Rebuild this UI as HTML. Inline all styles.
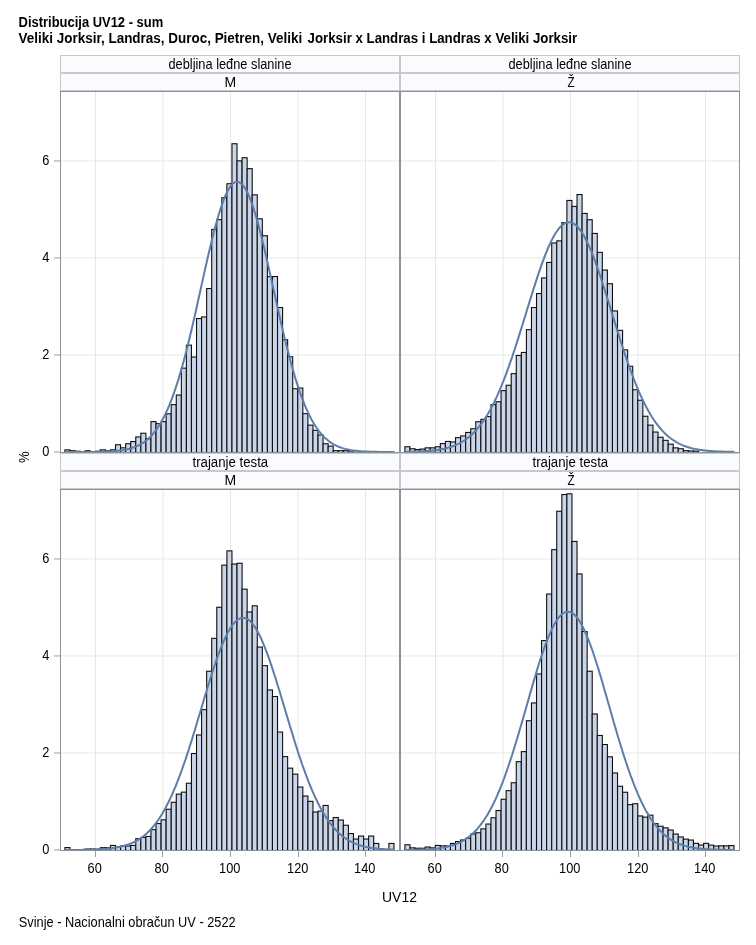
<!DOCTYPE html>
<html lang="hr"><head><meta charset="utf-8"><title>Distribucija UV12 - sum</title>
<style>html,body{margin:0;padding:0;background:#fff}svg{display:block}text{font-family:'Liberation Sans', Arial, Helvetica, sans-serif;fill:#000}</style></head><body>
<svg width="756" height="945" viewBox="0 0 756 945">
<rect width="756" height="945" fill="#fff"/>
<text transform="translate(18.6 27)" font-size="14.1" font-weight="bold" textLength="144.6" lengthAdjust="spacingAndGlyphs">Distribucija UV12 - sum</text>
<text transform="translate(18.6 43)" font-size="14.1" font-weight="bold" textLength="283.6" lengthAdjust="spacingAndGlyphs">Veliki Jorksir, Landras, Duroc, Pietren, Veliki</text>
<text transform="translate(307.6 43)" font-size="14.1" font-weight="bold" textLength="269.6" lengthAdjust="spacingAndGlyphs">Jorksir x Landras i Landras x Veliki Jorksir</text>
<rect x="60.5" y="55.5" width="339" height="17" fill="#FAFBFE" stroke="#C9C9C9" stroke-width="1" shape-rendering="crispEdges"/>
<text transform="translate(230 68.7) scale(0.914 1)" font-size="14" text-anchor="middle">debljina leđne slanine</text>
<rect x="60.5" y="73.5" width="339" height="17" fill="#FAFBFE" stroke="#C9C9C9" stroke-width="1" shape-rendering="crispEdges"/>
<text transform="translate(230.4 86.7)" font-size="14" text-anchor="middle">M</text>
<rect x="400.5" y="55.5" width="339" height="17" fill="#FAFBFE" stroke="#C9C9C9" stroke-width="1" shape-rendering="crispEdges"/>
<text transform="translate(570 68.7) scale(0.914 1)" font-size="14" text-anchor="middle">debljina leđne slanine</text>
<rect x="400.5" y="73.5" width="339" height="17" fill="#FAFBFE" stroke="#C9C9C9" stroke-width="1" shape-rendering="crispEdges"/>
<text transform="translate(571 86.7) scale(0.84 1)" font-size="14" text-anchor="middle">Ž</text>
<rect x="60.5" y="453.5" width="339" height="17" fill="#FAFBFE" stroke="#C9C9C9" stroke-width="1" shape-rendering="crispEdges"/>
<text transform="translate(230.3 466.7) scale(0.945 1)" font-size="14" text-anchor="middle">trajanje testa</text>
<rect x="60.5" y="471.5" width="339" height="17" fill="#FAFBFE" stroke="#C9C9C9" stroke-width="1" shape-rendering="crispEdges"/>
<text transform="translate(230.4 484.7)" font-size="14" text-anchor="middle">M</text>
<rect x="400.5" y="453.5" width="339" height="17" fill="#FAFBFE" stroke="#C9C9C9" stroke-width="1" shape-rendering="crispEdges"/>
<text transform="translate(570.3 466.7) scale(0.945 1)" font-size="14" text-anchor="middle">trajanje testa</text>
<rect x="400.5" y="471.5" width="339" height="17" fill="#FAFBFE" stroke="#C9C9C9" stroke-width="1" shape-rendering="crispEdges"/>
<text transform="translate(571 484.7) scale(0.84 1)" font-size="14" text-anchor="middle">Ž</text>
<clipPath id="c0"><rect x="60" y="91" width="340" height="362"/></clipPath>
<rect x="60" y="91" width="340" height="362" fill="#fff"/>
<path d="M95.5 91V452M163 91V452M230.5 91V452M298 91V452M365.5 91V452M60 354.97H400M60 257.94H400M60 160.91H400" stroke="#E7E7E7" stroke-width="1" fill="none"/>
<g clip-path="url(#c0)" fill="#CAD6E8" stroke="#0E0F12" stroke-width="1.1"><rect x="64.9" y="449.85" width="5.062" height="2.65"/><rect x="69.96" y="450.75" width="5.062" height="1.75"/><rect x="75.03" y="451.25" width="5.062" height="1.25"/><rect x="85.15" y="450.75" width="5.062" height="1.75"/><rect x="90.21" y="451.75" width="5.062" height="0.75"/><rect x="95.28" y="451.25" width="5.062" height="1.25"/><rect x="100.34" y="449.85" width="5.062" height="2.65"/><rect x="105.4" y="450.85" width="5.062" height="1.65"/><rect x="110.46" y="449.85" width="5.062" height="2.65"/><rect x="115.53" y="444.75" width="5.062" height="7.75"/><rect x="120.59" y="447.85" width="5.062" height="4.65"/><rect x="125.65" y="443.75" width="5.062" height="8.75"/><rect x="130.71" y="441.55" width="5.062" height="10.95"/><rect x="135.78" y="436.95" width="5.062" height="15.55"/><rect x="140.84" y="433.25" width="5.062" height="19.25"/><rect x="145.9" y="438.75" width="5.062" height="13.75"/><rect x="150.96" y="421.65" width="5.062" height="30.85"/><rect x="156.03" y="423.65" width="5.062" height="28.85"/><rect x="161.09" y="421.65" width="5.062" height="30.85"/><rect x="166.15" y="413.85" width="5.062" height="38.65"/><rect x="171.21" y="404.65" width="5.062" height="47.85"/><rect x="176.28" y="395.05" width="5.062" height="57.45"/><rect x="181.34" y="368.15" width="5.062" height="84.35"/><rect x="186.4" y="345.15" width="5.062" height="107.35"/><rect x="191.46" y="357.05" width="5.062" height="95.45"/><rect x="196.53" y="318.55" width="5.062" height="133.95"/><rect x="201.59" y="316.95" width="5.062" height="135.55"/><rect x="206.65" y="288.55" width="5.062" height="163.95"/><rect x="211.71" y="229.45" width="5.062" height="223.05"/><rect x="216.78" y="219.65" width="5.062" height="232.85"/><rect x="221.84" y="197.75" width="5.062" height="254.75"/><rect x="226.9" y="183.75" width="5.062" height="268.75"/><rect x="231.96" y="143.75" width="5.062" height="308.75"/><rect x="237.03" y="160.85" width="5.062" height="291.65"/><rect x="242.09" y="157.75" width="5.062" height="294.75"/><rect x="247.15" y="168.65" width="5.062" height="283.85"/><rect x="252.21" y="194.85" width="5.062" height="257.65"/><rect x="257.27" y="218.85" width="5.062" height="233.65"/><rect x="262.34" y="235.75" width="5.062" height="216.75"/><rect x="267.4" y="276.55" width="5.062" height="175.95"/><rect x="272.46" y="276.55" width="5.062" height="175.95"/><rect x="277.52" y="307.55" width="5.062" height="144.95"/><rect x="282.59" y="339.75" width="5.062" height="112.75"/><rect x="287.65" y="356.75" width="5.062" height="95.75"/><rect x="292.71" y="388.75" width="5.062" height="63.75"/><rect x="297.77" y="388.05" width="5.062" height="64.45"/><rect x="302.84" y="413.65" width="5.062" height="38.85"/><rect x="307.9" y="425.15" width="5.062" height="27.35"/><rect x="312.96" y="430.35" width="5.062" height="22.15"/><rect x="318.02" y="434.95" width="5.062" height="17.55"/><rect x="323.09" y="443.75" width="5.062" height="8.75"/><rect x="328.15" y="446.15" width="5.062" height="6.35"/><rect x="333.21" y="450.65" width="5.062" height="1.85"/><rect x="338.27" y="450.65" width="5.062" height="1.85"/><rect x="343.34" y="450.65" width="5.062" height="1.85"/><rect x="348.4" y="450.95" width="5.062" height="1.55"/></g>
<polyline points="65.0,452.0 66.6,452.0 68.3,452.0 69.9,452.0 71.6,452.0 73.2,452.0 74.9,452.0 76.5,452.0 78.2,452.0 79.8,452.0 81.5,452.0 83.1,452.0 84.8,452.0 86.4,452.0 88.1,451.9 89.7,451.9 91.4,451.9 93.0,451.9 94.7,451.9 96.3,451.9 98.0,451.8 99.6,451.8 101.2,451.8 102.9,451.7 104.5,451.7 106.2,451.6 107.8,451.5 109.5,451.5 111.1,451.4 112.8,451.3 114.4,451.1 116.1,451.0 117.7,450.8 119.4,450.6 121.0,450.4 122.7,450.2 124.3,449.9 126.0,449.6 127.6,449.2 129.3,448.8 130.9,448.4 132.5,447.8 134.2,447.3 135.8,446.6 137.5,445.9 139.1,445.1 140.8,444.2 142.4,443.2 144.1,442.1 145.7,440.9 147.4,439.5 149.0,438.0 150.7,436.4 152.3,434.6 154.0,432.7 155.6,430.6 157.3,428.3 158.9,425.8 160.6,423.2 162.2,420.3 163.8,417.2 165.5,413.9 167.1,410.3 168.8,406.5 170.4,402.5 172.1,398.2 173.7,393.7 175.4,388.9 177.0,383.9 178.7,378.6 180.3,373.1 182.0,367.3 183.6,361.4 185.3,355.1 186.9,348.7 188.6,342.1 190.2,335.3 191.9,328.3 193.5,321.2 195.2,314.0 196.8,306.7 198.4,299.3 200.1,291.8 201.7,284.4 203.4,276.9 205.0,269.5 206.7,262.2 208.3,255.0 210.0,248.0 211.6,241.1 213.3,234.5 214.9,228.1 216.6,222.0 218.2,216.2 219.9,210.8 221.5,205.8 223.2,201.1 224.8,197.0 226.5,193.3 228.1,190.1 229.8,187.3 231.4,185.2 233.0,183.5 234.7,182.4 236.3,181.9 238.0,181.9 239.6,182.5 241.3,183.7 242.9,185.3 244.6,187.6 246.2,190.3 247.9,193.6 249.5,197.3 251.2,201.6 252.8,206.2 254.5,211.3 256.1,216.7 257.8,222.5 259.4,228.7 261.1,235.1 262.7,241.7 264.3,248.6 266.0,255.7 267.6,262.9 269.3,270.2 270.9,277.6 272.6,285.1 274.2,292.5 275.9,300.0 277.5,307.4 279.2,314.7 280.8,321.9 282.5,329.0 284.1,335.9 285.8,342.7 287.4,349.3 289.1,355.7 290.7,361.9 292.4,367.9 294.0,373.6 295.6,379.1 297.3,384.4 298.9,389.4 300.6,394.1 302.2,398.6 303.9,402.9 305.5,406.9 307.2,410.6 308.8,414.2 310.5,417.5 312.1,420.6 313.8,423.4 315.4,426.1 317.1,428.5 318.7,430.8 320.4,432.9 322.0,434.8 323.7,436.6 325.3,438.2 327.0,439.6 328.6,441.0 330.2,442.2 331.9,443.3 333.5,444.3 335.2,445.2 336.8,446.0 338.5,446.7 340.1,447.3 341.8,447.9 343.4,448.4 345.1,448.9 346.7,449.3 348.4,449.6 350.0,449.9 351.7,450.2 353.3,450.4 355.0,450.7 356.6,450.8 358.3,451.0 359.9,451.2 361.6,451.3 363.2,451.4 364.8,451.5 366.5,451.5 368.1,451.6 369.8,451.7 371.4,451.7 373.1,451.8 374.7,451.8 376.4,451.8 378.0,451.9 379.7,451.9 381.3,451.9 383.0,451.9 384.6,451.9 386.3,451.9 387.9,452.0 389.6,452.0 391.2,452.0 392.9,452.0 394.5,452.0" clip-path="url(#c0)" fill="none" stroke="#5D7DAB" stroke-width="2" stroke-linejoin="round"/>
<rect x="60.5" y="91.5" width="339" height="361" fill="none" stroke="#8A929A" stroke-width="1" shape-rendering="crispEdges"/>
<clipPath id="c1"><rect x="400" y="91" width="340" height="362"/></clipPath>
<rect x="400" y="91" width="340" height="362" fill="#fff"/>
<path d="M435.5 91V452M503 91V452M570.5 91V452M638 91V452M705.5 91V452M400 354.97H740M400 257.94H740M400 160.91H740" stroke="#E7E7E7" stroke-width="1" fill="none"/>
<g clip-path="url(#c1)" fill="#CAD6E8" stroke="#0E0F12" stroke-width="1.1"><rect x="404.9" y="446.75" width="5.062" height="5.75"/><rect x="409.96" y="448.75" width="5.062" height="3.75"/><rect x="415.02" y="449.55" width="5.062" height="2.95"/><rect x="420.09" y="449.05" width="5.062" height="3.45"/><rect x="425.15" y="447.85" width="5.062" height="4.65"/><rect x="430.21" y="447.85" width="5.062" height="4.65"/><rect x="435.27" y="446.75" width="5.062" height="5.75"/><rect x="440.34" y="443.55" width="5.062" height="8.95"/><rect x="445.4" y="441.45" width="5.062" height="11.05"/><rect x="450.46" y="441.95" width="5.062" height="10.55"/><rect x="455.52" y="437.65" width="5.062" height="14.85"/><rect x="460.59" y="435.95" width="5.062" height="16.55"/><rect x="465.65" y="432.45" width="5.062" height="20.05"/><rect x="470.71" y="428.75" width="5.062" height="23.75"/><rect x="475.77" y="421.75" width="5.062" height="30.75"/><rect x="480.84" y="419.35" width="5.062" height="33.15"/><rect x="485.9" y="416.55" width="5.062" height="35.95"/><rect x="490.96" y="404.65" width="5.062" height="47.85"/><rect x="496.02" y="401.75" width="5.062" height="50.75"/><rect x="501.09" y="390.65" width="5.062" height="61.85"/><rect x="506.15" y="385.25" width="5.062" height="67.25"/><rect x="511.21" y="373.65" width="5.062" height="78.85"/><rect x="516.27" y="355.45" width="5.062" height="97.05"/><rect x="521.34" y="352.45" width="5.062" height="100.05"/><rect x="526.4" y="329.65" width="5.062" height="122.85"/><rect x="531.46" y="307.55" width="5.062" height="144.95"/><rect x="536.52" y="293.55" width="5.062" height="158.95"/><rect x="541.59" y="277.95" width="5.062" height="174.55"/><rect x="546.65" y="262.45" width="5.062" height="190.05"/><rect x="551.71" y="242.95" width="5.062" height="209.55"/><rect x="556.77" y="240.85" width="5.062" height="211.65"/><rect x="561.84" y="222.65" width="5.062" height="229.85"/><rect x="566.9" y="200.45" width="5.062" height="252.05"/><rect x="571.96" y="206.45" width="5.062" height="246.05"/><rect x="577.02" y="194.55" width="5.062" height="257.95"/><rect x="582.09" y="213.45" width="5.062" height="239.05"/><rect x="587.15" y="219.75" width="5.062" height="232.75"/><rect x="592.21" y="233.45" width="5.062" height="219.05"/><rect x="597.27" y="252.35" width="5.062" height="200.15"/><rect x="602.34" y="270.05" width="5.062" height="182.45"/><rect x="607.4" y="283.75" width="5.062" height="168.75"/><rect x="612.46" y="310.95" width="5.062" height="141.55"/><rect x="617.52" y="330.35" width="5.062" height="122.15"/><rect x="622.59" y="349.85" width="5.062" height="102.65"/><rect x="627.65" y="366.25" width="5.062" height="86.25"/><rect x="632.71" y="389.75" width="5.062" height="62.75"/><rect x="637.77" y="400.25" width="5.062" height="52.25"/><rect x="642.84" y="416.25" width="5.062" height="36.25"/><rect x="647.9" y="425.15" width="5.062" height="27.35"/><rect x="652.96" y="432.05" width="5.062" height="20.45"/><rect x="658.02" y="437.25" width="5.062" height="15.25"/><rect x="663.09" y="440.35" width="5.062" height="12.15"/><rect x="668.15" y="444.15" width="5.062" height="8.35"/><rect x="673.21" y="447.85" width="5.062" height="4.65"/><rect x="678.27" y="448.75" width="5.062" height="3.75"/><rect x="683.34" y="450.65" width="5.062" height="1.85"/><rect x="688.4" y="450.95" width="5.062" height="1.55"/><rect x="693.46" y="451.15" width="5.062" height="1.35"/></g>
<polyline points="405.0,451.9 406.6,451.8 408.3,451.8 409.9,451.8 411.6,451.7 413.2,451.7 414.9,451.6 416.5,451.6 418.2,451.5 419.8,451.5 421.5,451.4 423.1,451.3 424.8,451.2 426.4,451.1 428.1,451.0 429.7,450.8 431.4,450.7 433.0,450.5 434.7,450.3 436.3,450.1 437.9,449.9 439.6,449.6 441.2,449.3 442.9,449.0 444.5,448.7 446.2,448.3 447.8,447.8 449.5,447.3 451.1,446.8 452.8,446.2 454.4,445.6 456.1,444.9 457.7,444.2 459.4,443.4 461.0,442.5 462.7,441.5 464.3,440.5 466.0,439.3 467.6,438.1 469.3,436.8 470.9,435.4 472.5,433.9 474.2,432.2 475.8,430.5 477.5,428.6 479.1,426.6 480.8,424.5 482.4,422.3 484.1,419.9 485.7,417.4 487.4,414.7 489.0,411.9 490.7,408.9 492.3,405.8 494.0,402.6 495.6,399.2 497.3,395.6 498.9,391.9 500.6,388.0 502.2,384.0 503.9,379.9 505.5,375.6 507.1,371.1 508.8,366.6 510.4,361.9 512.1,357.1 513.7,352.2 515.4,347.2 517.0,342.1 518.7,336.9 520.3,331.6 522.0,326.3 523.6,321.0 525.3,315.7 526.9,310.3 528.6,304.9 530.2,299.6 531.9,294.3 533.5,289.1 535.2,283.9 536.8,278.9 538.4,273.9 540.1,269.1 541.7,264.4 543.4,259.9 545.0,255.6 546.7,251.4 548.3,247.5 550.0,243.8 551.6,240.4 553.3,237.2 554.9,234.3 556.6,231.7 558.2,229.4 559.9,227.4 561.5,225.7 563.2,224.4 564.8,223.3 566.5,222.7 568.1,222.3 569.8,222.3 571.4,222.6 573.0,223.3 574.7,224.3 576.3,225.6 578.0,227.3 579.6,229.3 581.3,231.5 582.9,234.1 584.6,237.0 586.2,240.2 587.9,243.6 589.5,247.2 591.2,251.1 592.8,255.2 594.5,259.6 596.1,264.1 597.8,268.7 599.4,273.5 601.1,278.5 602.7,283.5 604.3,288.7 606.0,293.9 607.6,299.2 609.3,304.5 610.9,309.9 612.6,315.3 614.2,320.6 615.9,326.0 617.5,331.2 619.2,336.5 620.8,341.7 622.5,346.8 624.1,351.8 625.8,356.7 627.4,361.5 629.1,366.2 630.7,370.8 632.4,375.2 634.0,379.5 635.6,383.7 637.3,387.7 638.9,391.6 640.6,395.3 642.2,398.9 643.9,402.3 645.5,405.6 647.2,408.7 648.8,411.7 650.5,414.5 652.1,417.2 653.8,419.7 655.4,422.1 657.1,424.4 658.7,426.5 660.4,428.5 662.0,430.4 663.7,432.1 665.3,433.7 667.0,435.3 668.6,436.7 670.2,438.0 671.9,439.2 673.5,440.4 675.2,441.4 676.8,442.4 678.5,443.3 680.1,444.1 681.8,444.9 683.4,445.6 685.1,446.2 686.7,446.8 688.4,447.3 690.0,447.8 691.7,448.2 693.3,448.6 695.0,449.0 696.6,449.3 698.3,449.6 699.9,449.9 701.5,450.1 703.2,450.3 704.8,450.5 706.5,450.7 708.1,450.8 709.8,451.0 711.4,451.1 713.1,451.2 714.7,451.3 716.4,451.4 718.0,451.5 719.7,451.5 721.3,451.6 723.0,451.6 724.6,451.7 726.3,451.7 727.9,451.8 729.6,451.8 731.2,451.8 732.9,451.8 734.5,451.9" clip-path="url(#c1)" fill="none" stroke="#5D7DAB" stroke-width="2" stroke-linejoin="round"/>
<rect x="400.5" y="91.5" width="339" height="361" fill="none" stroke="#8A929A" stroke-width="1" shape-rendering="crispEdges"/>
<clipPath id="c2"><rect x="60" y="489" width="340" height="362"/></clipPath>
<rect x="60" y="489" width="340" height="362" fill="#fff"/>
<path d="M95.5 489V850M163 489V850M230.5 489V850M298 489V850M365.5 489V850M60 752.97H400M60 655.94H400M60 558.91H400" stroke="#E7E7E7" stroke-width="1" fill="none"/>
<g clip-path="url(#c2)" fill="#CAD6E8" stroke="#0E0F12" stroke-width="1.1"><rect x="64.9" y="847.55" width="5.062" height="2.95"/><rect x="85.15" y="849.05" width="5.062" height="1.45"/><rect x="90.21" y="849.05" width="5.062" height="1.45"/><rect x="95.28" y="849.25" width="5.062" height="1.25"/><rect x="100.34" y="847.7" width="5.062" height="2.8"/><rect x="105.4" y="847.8" width="5.062" height="2.7"/><rect x="110.46" y="845.45" width="5.062" height="5.05"/><rect x="115.53" y="847.05" width="5.062" height="3.45"/><rect x="120.59" y="845.95" width="5.062" height="4.55"/><rect x="125.65" y="845.95" width="5.062" height="4.55"/><rect x="130.71" y="845.45" width="5.062" height="5.05"/><rect x="135.78" y="838.65" width="5.062" height="11.85"/><rect x="140.84" y="837.55" width="5.062" height="12.95"/><rect x="145.9" y="836.45" width="5.062" height="14.05"/><rect x="150.96" y="829.65" width="5.062" height="20.85"/><rect x="156.03" y="823.55" width="5.062" height="26.95"/><rect x="161.09" y="819.85" width="5.062" height="30.65"/><rect x="166.15" y="809.25" width="5.062" height="41.25"/><rect x="171.21" y="802.25" width="5.062" height="48.25"/><rect x="176.28" y="794.15" width="5.062" height="56.35"/><rect x="181.34" y="792.15" width="5.062" height="58.35"/><rect x="186.4" y="783.25" width="5.062" height="67.25"/><rect x="191.46" y="753.55" width="5.062" height="96.95"/><rect x="196.53" y="734.95" width="5.062" height="115.55"/><rect x="201.59" y="709.65" width="5.062" height="140.85"/><rect x="206.65" y="671.25" width="5.062" height="179.25"/><rect x="211.71" y="638.35" width="5.062" height="212.15"/><rect x="216.78" y="607.25" width="5.062" height="243.25"/><rect x="221.84" y="565.15" width="5.062" height="285.35"/><rect x="226.9" y="550.85" width="5.062" height="299.65"/><rect x="231.96" y="564.05" width="5.062" height="286.45"/><rect x="237.03" y="563.25" width="5.062" height="287.25"/><rect x="242.09" y="589.15" width="5.062" height="261.35"/><rect x="247.15" y="611.95" width="5.062" height="238.55"/><rect x="252.21" y="605.85" width="5.062" height="244.65"/><rect x="257.27" y="647.05" width="5.062" height="203.45"/><rect x="262.34" y="665.65" width="5.062" height="184.85"/><rect x="267.4" y="689.95" width="5.062" height="160.55"/><rect x="272.46" y="696.55" width="5.062" height="153.95"/><rect x="277.52" y="732.05" width="5.062" height="118.45"/><rect x="282.59" y="756.65" width="5.062" height="93.85"/><rect x="287.65" y="768.15" width="5.062" height="82.35"/><rect x="292.71" y="774.15" width="5.062" height="76.35"/><rect x="297.77" y="787.05" width="5.062" height="63.45"/><rect x="302.84" y="796.05" width="5.062" height="54.45"/><rect x="307.9" y="801.35" width="5.062" height="49.15"/><rect x="312.96" y="812.05" width="5.062" height="38.45"/><rect x="318.02" y="811.15" width="5.062" height="39.35"/><rect x="323.09" y="805.45" width="5.062" height="45.05"/><rect x="328.15" y="820.65" width="5.062" height="29.85"/><rect x="333.21" y="817.55" width="5.062" height="32.95"/><rect x="338.27" y="820.05" width="5.062" height="30.45"/><rect x="343.34" y="825.25" width="5.062" height="25.25"/><rect x="348.4" y="833.55" width="5.062" height="16.95"/><rect x="353.46" y="839.05" width="5.062" height="11.45"/><rect x="358.52" y="836.05" width="5.062" height="14.45"/><rect x="363.59" y="839.05" width="5.062" height="11.45"/><rect x="368.65" y="836.05" width="5.062" height="14.45"/><rect x="373.71" y="843.45" width="5.062" height="7.05"/><rect x="388.9" y="843.45" width="5.062" height="7.05"/></g>
<polyline points="65.0,850.0 66.6,850.0 68.3,850.0 69.9,850.0 71.6,849.9 73.2,849.9 74.9,849.9 76.5,849.9 78.2,849.9 79.8,849.9 81.5,849.9 83.1,849.8 84.8,849.8 86.4,849.8 88.1,849.7 89.7,849.7 91.4,849.7 93.0,849.6 94.7,849.6 96.3,849.5 98.0,849.4 99.6,849.3 101.2,849.2 102.9,849.1 104.5,849.0 106.2,848.9 107.8,848.7 109.5,848.5 111.1,848.4 112.8,848.1 114.4,847.9 116.1,847.6 117.7,847.3 119.4,847.0 121.0,846.6 122.7,846.2 124.3,845.8 126.0,845.3 127.6,844.7 129.3,844.2 130.9,843.5 132.5,842.8 134.2,842.0 135.8,841.2 137.5,840.2 139.1,839.2 140.8,838.1 142.4,836.9 144.1,835.7 145.7,834.3 147.4,832.8 149.0,831.2 150.7,829.5 152.3,827.6 154.0,825.7 155.6,823.6 157.3,821.3 158.9,819.0 160.6,816.4 162.2,813.8 163.8,810.9 165.5,808.0 167.1,804.8 168.8,801.5 170.4,798.1 172.1,794.5 173.7,790.7 175.4,786.8 177.0,782.7 178.7,778.5 180.3,774.1 182.0,769.5 183.6,764.9 185.3,760.1 186.9,755.1 188.6,750.1 190.2,744.9 191.9,739.7 193.5,734.4 195.2,729.0 196.8,723.5 198.4,718.0 200.1,712.5 201.7,707.0 203.4,701.4 205.0,695.9 206.7,690.5 208.3,685.1 210.0,679.8 211.6,674.5 213.3,669.4 214.9,664.5 216.6,659.7 218.2,655.1 219.9,650.6 221.5,646.4 223.2,642.4 224.8,638.7 226.5,635.2 228.1,632.0 229.8,629.2 231.4,626.6 233.0,624.3 234.7,622.4 236.3,620.8 238.0,619.5 239.6,618.6 241.3,618.0 242.9,617.9 244.6,618.0 246.2,618.5 247.9,619.4 249.5,620.6 251.2,622.2 252.8,624.1 254.5,626.4 256.1,628.9 257.8,631.8 259.4,635.0 261.1,638.4 262.7,642.1 264.3,646.1 266.0,650.3 267.6,654.7 269.3,659.3 270.9,664.1 272.6,669.1 274.2,674.1 275.9,679.3 277.5,684.7 279.2,690.0 280.8,695.5 282.5,701.0 284.1,706.5 285.8,712.1 287.4,717.6 289.1,723.1 290.7,728.5 292.4,733.9 294.0,739.3 295.6,744.5 297.3,749.7 298.9,754.7 300.6,759.7 302.2,764.5 303.9,769.2 305.5,773.7 307.2,778.1 308.8,782.4 310.5,786.5 312.1,790.4 313.8,794.2 315.4,797.8 317.1,801.3 318.7,804.6 320.4,807.7 322.0,810.7 323.7,813.6 325.3,816.2 327.0,818.8 328.6,821.2 330.2,823.4 331.9,825.5 333.5,827.5 335.2,829.3 336.8,831.1 338.5,832.7 340.1,834.2 341.8,835.6 343.4,836.8 345.1,838.0 346.7,839.1 348.4,840.1 350.0,841.1 351.7,841.9 353.3,842.7 355.0,843.4 356.6,844.1 358.3,844.7 359.9,845.3 361.6,845.7 363.2,846.2 364.8,846.6 366.5,847.0 368.1,847.3 369.8,847.6 371.4,847.9 373.1,848.1 374.7,848.3 376.4,848.5 378.0,848.7 379.7,848.9 381.3,849.0 383.0,849.1 384.6,849.2 386.3,849.3 387.9,849.4 389.6,849.5 391.2,849.6 392.9,849.6 394.5,849.7" clip-path="url(#c2)" fill="none" stroke="#5D7DAB" stroke-width="2" stroke-linejoin="round"/>
<rect x="60.5" y="489.5" width="339" height="361" fill="none" stroke="#8A929A" stroke-width="1" shape-rendering="crispEdges"/>
<clipPath id="c3"><rect x="400" y="489" width="340" height="362"/></clipPath>
<rect x="400" y="489" width="340" height="362" fill="#fff"/>
<path d="M435.5 489V850M503 489V850M570.5 489V850M638 489V850M705.5 489V850M400 752.97H740M400 655.94H740M400 558.91H740" stroke="#E7E7E7" stroke-width="1" fill="none"/>
<g clip-path="url(#c3)" fill="#CAD6E8" stroke="#0E0F12" stroke-width="1.1"><rect x="404.9" y="844.75" width="5.062" height="5.75"/><rect x="409.96" y="847.85" width="5.062" height="2.65"/><rect x="415.02" y="848.25" width="5.062" height="2.25"/><rect x="420.09" y="848.25" width="5.062" height="2.25"/><rect x="425.15" y="847.05" width="5.062" height="3.45"/><rect x="430.21" y="847.85" width="5.062" height="2.65"/><rect x="435.27" y="845.45" width="5.062" height="5.05"/><rect x="440.34" y="845.85" width="5.062" height="4.65"/><rect x="445.4" y="845.95" width="5.062" height="4.55"/><rect x="450.46" y="843.45" width="5.062" height="7.05"/><rect x="455.52" y="841.55" width="5.062" height="8.95"/><rect x="460.59" y="839.95" width="5.062" height="10.55"/><rect x="465.65" y="838.35" width="5.062" height="12.15"/><rect x="470.71" y="834.05" width="5.062" height="16.45"/><rect x="475.77" y="832.75" width="5.062" height="17.75"/><rect x="480.84" y="828.85" width="5.062" height="21.65"/><rect x="485.9" y="824.05" width="5.062" height="26.45"/><rect x="490.96" y="817.75" width="5.062" height="32.75"/><rect x="496.02" y="810.55" width="5.062" height="39.95"/><rect x="501.09" y="799.25" width="5.062" height="51.25"/><rect x="506.15" y="790.65" width="5.062" height="59.85"/><rect x="511.21" y="782.75" width="5.062" height="67.75"/><rect x="516.27" y="761.65" width="5.062" height="88.85"/><rect x="521.34" y="751.65" width="5.062" height="98.85"/><rect x="526.4" y="720.75" width="5.062" height="129.75"/><rect x="531.46" y="702.95" width="5.062" height="147.55"/><rect x="536.52" y="673.95" width="5.062" height="176.55"/><rect x="541.59" y="640.55" width="5.062" height="209.95"/><rect x="546.65" y="594.05" width="5.062" height="256.45"/><rect x="551.71" y="549.65" width="5.062" height="300.85"/><rect x="556.77" y="511.25" width="5.062" height="339.25"/><rect x="561.84" y="494.55" width="5.062" height="355.95"/><rect x="566.9" y="493.85" width="5.062" height="356.65"/><rect x="571.96" y="541.45" width="5.062" height="309.05"/><rect x="577.02" y="573.95" width="5.062" height="276.55"/><rect x="582.09" y="631.55" width="5.062" height="218.95"/><rect x="587.15" y="671.25" width="5.062" height="179.25"/><rect x="592.21" y="713.95" width="5.062" height="136.55"/><rect x="597.27" y="735.45" width="5.062" height="115.05"/><rect x="602.34" y="744.55" width="5.062" height="105.95"/><rect x="607.4" y="756.85" width="5.062" height="93.65"/><rect x="612.46" y="772.95" width="5.062" height="77.55"/><rect x="617.52" y="786.25" width="5.062" height="64.25"/><rect x="622.59" y="792.25" width="5.062" height="58.25"/><rect x="627.65" y="804.65" width="5.062" height="45.85"/><rect x="632.71" y="803.75" width="5.062" height="46.75"/><rect x="637.77" y="815.95" width="5.062" height="34.55"/><rect x="642.84" y="817.15" width="5.062" height="33.35"/><rect x="647.9" y="815.15" width="5.062" height="35.35"/><rect x="652.96" y="823.65" width="5.062" height="26.85"/><rect x="658.02" y="826.25" width="5.062" height="24.25"/><rect x="663.09" y="827.85" width="5.062" height="22.65"/><rect x="668.15" y="830.05" width="5.062" height="20.45"/><rect x="673.21" y="834.05" width="5.062" height="16.45"/><rect x="678.27" y="836.95" width="5.062" height="13.55"/><rect x="683.34" y="839.15" width="5.062" height="11.35"/><rect x="688.4" y="840.05" width="5.062" height="10.45"/><rect x="693.46" y="843.35" width="5.062" height="7.15"/><rect x="698.52" y="845.05" width="5.062" height="5.45"/><rect x="703.59" y="843.35" width="5.062" height="7.15"/><rect x="708.65" y="845.15" width="5.062" height="5.35"/><rect x="713.71" y="846.05" width="5.062" height="4.45"/><rect x="718.77" y="845.85" width="5.062" height="4.65"/><rect x="723.84" y="845.85" width="5.062" height="4.65"/><rect x="728.9" y="845.55" width="5.062" height="4.95"/></g>
<polyline points="405.0,849.9 406.6,849.9 408.3,849.9 409.9,849.8 411.6,849.8 413.2,849.8 414.9,849.8 416.5,849.7 418.2,849.7 419.8,849.6 421.5,849.6 423.1,849.5 424.8,849.4 426.4,849.4 428.1,849.3 429.7,849.2 431.4,849.0 433.0,848.9 434.7,848.7 436.3,848.6 437.9,848.4 439.6,848.2 441.2,847.9 442.9,847.6 444.5,847.3 446.2,847.0 447.8,846.6 449.5,846.2 451.1,845.7 452.8,845.2 454.4,844.7 456.1,844.1 457.7,843.4 459.4,842.6 461.0,841.8 462.7,840.9 464.3,840.0 466.0,838.9 467.6,837.8 469.3,836.5 470.9,835.2 472.5,833.7 474.2,832.2 475.8,830.5 477.5,828.7 479.1,826.7 480.8,824.6 482.4,822.4 484.1,820.1 485.7,817.5 487.4,814.9 489.0,812.0 490.7,809.0 492.3,805.9 494.0,802.5 495.6,799.1 497.3,795.4 498.9,791.5 500.6,787.5 502.2,783.4 503.9,779.0 505.5,774.5 507.1,769.9 508.8,765.0 510.4,760.1 512.1,755.0 513.7,749.8 515.4,744.4 517.0,739.0 518.7,733.4 520.3,727.8 522.0,722.1 523.6,716.4 525.3,710.6 526.9,704.9 528.6,699.1 530.2,693.3 531.9,687.6 533.5,681.9 535.2,676.4 536.8,670.9 538.4,665.5 540.1,660.3 541.7,655.3 543.4,650.4 545.0,645.8 546.7,641.3 548.3,637.2 550.0,633.3 551.6,629.6 553.3,626.3 554.9,623.3 556.6,620.6 558.2,618.2 559.9,616.2 561.5,614.6 563.2,613.3 564.8,612.4 566.5,611.9 568.1,611.8 569.8,612.0 571.4,612.6 573.0,613.6 574.7,615.0 576.3,616.7 578.0,618.8 579.6,621.3 581.3,624.1 582.9,627.2 584.6,630.6 586.2,634.3 587.9,638.3 589.5,642.5 591.2,647.0 592.8,651.7 594.5,656.7 596.1,661.7 597.8,667.0 599.4,672.4 601.1,677.9 602.7,683.5 604.3,689.2 606.0,694.9 607.6,700.7 609.3,706.5 610.9,712.2 612.6,718.0 614.2,723.7 615.9,729.4 617.5,735.0 619.2,740.5 620.8,745.9 622.5,751.2 624.1,756.4 625.8,761.5 627.4,766.4 629.1,771.2 630.7,775.8 632.4,780.2 634.0,784.5 635.6,788.7 637.3,792.6 638.9,796.4 640.6,800.0 642.2,803.5 643.9,806.8 645.5,809.9 647.2,812.8 648.8,815.6 650.5,818.3 652.1,820.7 653.8,823.1 655.4,825.2 657.1,827.3 658.7,829.2 660.4,831.0 662.0,832.6 663.7,834.2 665.3,835.6 667.0,836.9 668.6,838.1 670.2,839.2 671.9,840.3 673.5,841.2 675.2,842.1 676.8,842.9 678.5,843.6 680.1,844.2 681.8,844.8 683.4,845.4 685.1,845.9 686.7,846.3 688.4,846.7 690.0,847.1 691.7,847.4 693.3,847.7 695.0,848.0 696.6,848.2 698.3,848.4 699.9,848.6 701.5,848.8 703.2,848.9 704.8,849.1 706.5,849.2 708.1,849.3 709.8,849.4 711.4,849.5 713.1,849.5 714.7,849.6 716.4,849.6 718.0,849.7 719.7,849.7 721.3,849.8 723.0,849.8 724.6,849.8 726.3,849.9 727.9,849.9 729.6,849.9 731.2,849.9 732.9,849.9 734.5,849.9" clip-path="url(#c3)" fill="none" stroke="#5D7DAB" stroke-width="2" stroke-linejoin="round"/>
<rect x="400.5" y="489.5" width="339" height="361" fill="none" stroke="#8A929A" stroke-width="1" shape-rendering="crispEdges"/>
<path d="M54 452H60" stroke="#B5BBC0" stroke-width="1.4"/>
<text transform="translate(49.4 456.1) scale(0.914 1)" font-size="14" text-anchor="end">0</text>
<path d="M54 354.97H60" stroke="#B5BBC0" stroke-width="1.4"/>
<text transform="translate(49.4 359.07) scale(0.914 1)" font-size="14" text-anchor="end">2</text>
<path d="M54 257.94H60" stroke="#B5BBC0" stroke-width="1.4"/>
<text transform="translate(49.4 262.04) scale(0.914 1)" font-size="14" text-anchor="end">4</text>
<path d="M54 160.91H60" stroke="#B5BBC0" stroke-width="1.4"/>
<text transform="translate(49.4 165.01) scale(0.914 1)" font-size="14" text-anchor="end">6</text>
<path d="M54 850H60" stroke="#B5BBC0" stroke-width="1.4"/>
<text transform="translate(49.4 854.1) scale(0.914 1)" font-size="14" text-anchor="end">0</text>
<path d="M54 752.97H60" stroke="#B5BBC0" stroke-width="1.4"/>
<text transform="translate(49.4 757.07) scale(0.914 1)" font-size="14" text-anchor="end">2</text>
<path d="M54 655.94H60" stroke="#B5BBC0" stroke-width="1.4"/>
<text transform="translate(49.4 660.04) scale(0.914 1)" font-size="14" text-anchor="end">4</text>
<path d="M54 558.91H60" stroke="#B5BBC0" stroke-width="1.4"/>
<text transform="translate(49.4 563.01) scale(0.914 1)" font-size="14" text-anchor="end">6</text>
<path d="M95.5 851V857" stroke="#98A0A6" stroke-width="1" shape-rendering="crispEdges"/>
<text transform="translate(94.7 873) scale(0.914 1)" font-size="14" text-anchor="middle">60</text>
<path d="M162.5 851V857" stroke="#98A0A6" stroke-width="1" shape-rendering="crispEdges"/>
<text transform="translate(161.7 873) scale(0.914 1)" font-size="14" text-anchor="middle">80</text>
<path d="M230.5 851V857" stroke="#98A0A6" stroke-width="1" shape-rendering="crispEdges"/>
<text transform="translate(229.7 873) scale(0.914 1)" font-size="14" text-anchor="middle">100</text>
<path d="M298.5 851V857" stroke="#98A0A6" stroke-width="1" shape-rendering="crispEdges"/>
<text transform="translate(297.7 873) scale(0.914 1)" font-size="14" text-anchor="middle">120</text>
<path d="M365.5 851V857" stroke="#98A0A6" stroke-width="1" shape-rendering="crispEdges"/>
<text transform="translate(364.7 873) scale(0.914 1)" font-size="14" text-anchor="middle">140</text>
<path d="M435.5 851V857" stroke="#98A0A6" stroke-width="1" shape-rendering="crispEdges"/>
<text transform="translate(434.7 873) scale(0.914 1)" font-size="14" text-anchor="middle">60</text>
<path d="M502.5 851V857" stroke="#98A0A6" stroke-width="1" shape-rendering="crispEdges"/>
<text transform="translate(501.7 873) scale(0.914 1)" font-size="14" text-anchor="middle">80</text>
<path d="M570.5 851V857" stroke="#98A0A6" stroke-width="1" shape-rendering="crispEdges"/>
<text transform="translate(569.7 873) scale(0.914 1)" font-size="14" text-anchor="middle">100</text>
<path d="M638.5 851V857" stroke="#98A0A6" stroke-width="1" shape-rendering="crispEdges"/>
<text transform="translate(637.7 873) scale(0.914 1)" font-size="14" text-anchor="middle">120</text>
<path d="M705.5 851V857" stroke="#98A0A6" stroke-width="1" shape-rendering="crispEdges"/>
<text transform="translate(704.7 873) scale(0.914 1)" font-size="14" text-anchor="middle">140</text>
<text transform="translate(399.5 902) scale(0.92 1)" font-size="15.2" text-anchor="middle">UV12</text>
<text transform="translate(29 457.3) rotate(-90) scale(0.86 1)" font-size="15.2" text-anchor="middle">%</text>
<text transform="translate(18.8 927) scale(0.914 1)" font-size="14">Svinje - Nacionalni obračun UV - 2522</text>
</svg></body></html>
